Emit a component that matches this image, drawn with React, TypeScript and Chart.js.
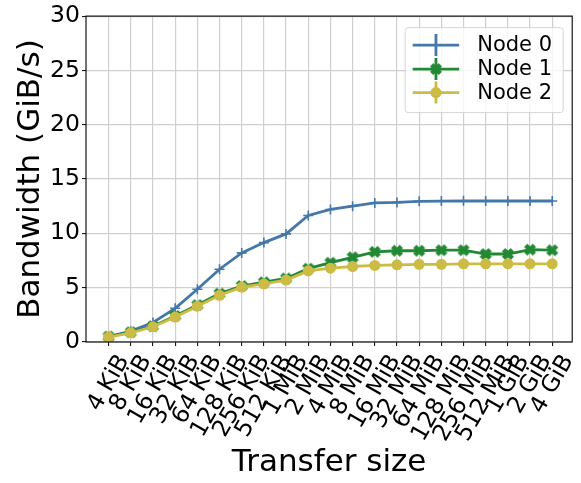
import React, { useEffect, useRef } from "react";
import { Chart, registerables } from "chart.js";

Chart.register(...registerables);

const categories = [
  "4 KiB", "8 KiB", "16 KiB", "32 KiB", "64 KiB", "128 KiB", "256 KiB", "512 KiB",
  "1 MiB", "2 MiB", "4 MiB", "8 MiB", "16 MiB", "32 MiB", "64 MiB", "128 MiB",
  "256 MiB", "512 MiB", "1 GiB", "2 GiB", "4 GiB",
];
const node0 = [0.5, 1.0, 1.8, 3.1, 4.85, 6.7, 8.2, 9.15, 9.95, 11.65, 12.2, 12.5, 12.8, 12.85, 12.95, 12.97, 13.0, 12.98, 12.98, 12.98, 12.98];
const node1 = [0.5, 0.9, 1.45, 2.4, 3.4, 4.45, 5.15, 5.5, 5.85, 6.75, 7.3, 7.8, 8.3, 8.4, 8.4, 8.45, 8.45, 8.1, 8.1, 8.5, 8.45];
const node2 = [0.45, 0.85, 1.4, 2.3, 3.3, 4.3, 5.05, 5.35, 5.7, 6.55, 6.8, 6.95, 7.05, 7.1, 7.15, 7.15, 7.2, 7.2, 7.2, 7.2, 7.2];
const seriesNames = ["Node 0", "Node 1", "Node 2"];
const colors = ["#4477AA", "#228833", "#CCBB44"];
const yMin = 0;
const yMax = 30;
const yStep = 5;

const FONT = '"DejaVu Sans", sans-serif';

function makeXMarker(color: string): HTMLCanvasElement {
  const size = 14;
  const c = document.createElement("canvas");
  c.width = size;
  c.height = size;
  const ctx = c.getContext("2d")!;
  const s = 11;
  const o = (size - s) / 2;
  const pts = [
    [0.25, 0], [0.5, 0.25], [0.75, 0], [1, 0.25], [0.75, 0.5], [1, 0.75],
    [0.75, 1], [0.5, 0.75], [0.25, 1], [0, 0.75], [0.25, 0.5], [0, 0.25],
  ];
  ctx.beginPath();
  pts.forEach(([px, py], i) => {
    const X = o + px * s;
    const Y = o + py * s;
    if (i === 0) ctx.moveTo(X, Y);
    else ctx.lineTo(X, Y);
  });
  ctx.closePath();
  ctx.fillStyle = color;
  ctx.fill();
  ctx.strokeStyle = color;
  ctx.lineWidth = 1;
  ctx.stroke();
  return c;
}

export default function App() {
  const ref = useRef<HTMLCanvasElement | null>(null);

  useEffect(() => {
    if (!ref.current) return;
    const xMarker = makeXMarker(colors[1]);

    const overlay = {
      id: "overlay",
      afterDatasetsDraw(chart: any) {
        const ctx = chart.ctx as CanvasRenderingContext2D;
        const area = chart.chartArea;
        const xs = chart.scales.x;
        ctx.save();
        // frame
        ctx.strokeStyle = "#000";
        ctx.lineWidth = 1.1;
        ctx.strokeRect(area.left, area.top, area.right - area.left, area.bottom - area.top);

        // x tick labels (rotated 60 degrees, bounding box centred on the tick)
        const fs = 23.5;
        ctx.font = `${fs}px ${FONT}`;
        ctx.fillStyle = "#000";
        ctx.textAlign = "center";
        ctx.textBaseline = "alphabetic";
        const ang = (60 * Math.PI) / 180;
        const h = 0.97 * fs;
        categories.forEach((lab, i) => {
          const x = xs.getPixelForValue(i);
          const w = ctx.measureText(lab).width;
          const H = w * Math.sin(ang) + h * Math.cos(ang);
          const cy = area.bottom + 9 + H / 2;
          ctx.save();
          ctx.translate(x, cy);
          ctx.rotate(-ang);
          ctx.fillText(lab, 0, 0.276 * fs);
          ctx.restore();
        });

        // legend
        const lw = 158;
        const lh = 85;
        const lx = area.right - 9 - lw;
        const ly = area.top + 11.5;
        ctx.beginPath();
        const r = 3;
        ctx.moveTo(lx + r, ly);
        ctx.lineTo(lx + lw - r, ly);
        ctx.quadraticCurveTo(lx + lw, ly, lx + lw, ly + r);
        ctx.lineTo(lx + lw, ly + lh - r);
        ctx.quadraticCurveTo(lx + lw, ly + lh, lx + lw - r, ly + lh);
        ctx.lineTo(lx + r, ly + lh);
        ctx.quadraticCurveTo(lx, ly + lh, lx, ly + lh - r);
        ctx.lineTo(lx, ly + r);
        ctx.quadraticCurveTo(lx, ly, lx + r, ly);
        ctx.closePath();
        ctx.fillStyle = "rgba(255,255,255,0.8)";
        ctx.fill();
        ctx.strokeStyle = "rgba(204,204,204,0.8)";
        ctx.lineWidth = 1;
        ctx.stroke();

        const rows = [ly + 17.5, ly + 41.5, ly + 65];
        const x1 = lx + 7.5;
        const x2 = lx + 54;
        const cx = (x1 + x2) / 2;
        seriesNames.forEach((name, i) => {
          const y = rows[i];
          ctx.strokeStyle = colors[i];
          ctx.lineWidth = 2.8;
          ctx.beginPath();
          ctx.moveTo(x1, y);
          ctx.lineTo(x2, y);
          ctx.moveTo(cx, y - 11);
          ctx.lineTo(cx, y + 11);
          ctx.stroke();
          if (i === 1) {
            ctx.drawImage(xMarker, cx - xMarker.width / 2, y - xMarker.height / 2);
          } else if (i === 2) {
            ctx.fillStyle = colors[i];
            ctx.beginPath();
            ctx.arc(cx, y, 5.5, 0, Math.PI * 2);
            ctx.fill();
          }
          ctx.fillStyle = "#000";
          ctx.font = `21px ${FONT}`;
          ctx.textAlign = "left";
          ctx.textBaseline = "middle";
          ctx.fillText(name, lx + 72, y + 0.5);
        });
        ctx.restore();
      },
    };

    const toPts = (arr: number[]) => arr.map((v, i) => ({ x: i, y: v }));

    const chart = new Chart(ref.current, {
      type: "line",
      data: {
        datasets: [
          {
            label: seriesNames[0],
            data: toPts(node0),
            borderColor: colors[0],
            backgroundColor: colors[0],
            borderWidth: 2.8,
            pointStyle: "cross",
            pointRadius: 5,
            pointBorderWidth: 1.6,
            order: 3,
          },
          {
            label: seriesNames[1],
            data: toPts(node1),
            borderColor: colors[1],
            backgroundColor: colors[1],
            borderWidth: 2.8,
            pointStyle: xMarker as any,
            pointRadius: 6,
            order: 2,
          },
          {
            label: seriesNames[2],
            data: toPts(node2),
            borderColor: colors[2],
            backgroundColor: colors[2],
            borderWidth: 2.8,
            pointStyle: "circle",
            pointRadius: 5.5,
            pointBorderWidth: 0,
            order: 1,
          },
        ],
      },
      options: {
        animation: false,
        responsive: false,
        devicePixelRatio: 1,
        events: [],
        layout: { padding: { left: 0, right: 3, top: 16, bottom: 0 } },
        plugins: {
          legend: { display: false },
          tooltip: { enabled: false },
        },
        scales: {
          x: {
            type: "linear",
            min: -1.02,
            max: categories.length - 0.1,
            afterBuildTicks: (scale: any) => {
              scale.ticks = categories.map((_, i) => ({ value: i }));
            },
            afterFit: (scale: any) => {
              scale.height = 141;
            },
            ticks: { display: false },
            grid: {
              color: "#cfcfcf",
              lineWidth: 1.2,
              drawTicks: true,
              tickLength: 4,
              tickColor: "#000",
              tickWidth: 1,
            },
            border: { display: false },
            title: {
              display: true,
              text: "Transfer size",
              color: "#000",
              font: { family: FONT, size: 31 },
              padding: { top: 0, bottom: 1 },
            },
          },
          y: {
            type: "linear",
            min: yMin,
            max: yMax,
            ticks: {
              stepSize: yStep,
              color: "#000",
              font: { family: FONT, size: 23.5 },
              padding: 2,
            },
            afterFit: (scale: any) => {
              scale.width = 86;
            },
            grid: {
              color: "#cfcfcf",
              lineWidth: 1.2,
              drawTicks: true,
              tickLength: 4,
              tickColor: "#000",
              tickWidth: 1,
            },
            border: { display: false },
            title: {
              display: true,
              text: "Bandwidth (GiB/s)",
              color: "#000",
              font: { family: FONT, size: 31 },
              padding: { top: 12.4, bottom: 0 },
            },
          },
        },
      },
      plugins: [overlay],
    } as any);

    return () => chart.destroy();
  }, []);

  return (
    <div style={{ position: "fixed", left: 0, top: 0, width: 581, height: 483, background: "#fff" }}>
      <canvas ref={ref} width={581} height={483} style={{ display: "block" }} />
    </div>
  );
}
